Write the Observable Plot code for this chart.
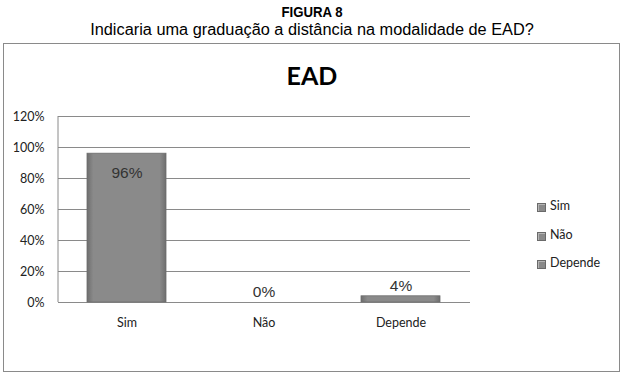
<!DOCTYPE html>
<html><head><meta charset="utf-8">
<script src="https://cdn.jsdelivr.net/npm/d3@7"></script>
<script src="https://cdn.jsdelivr.net/npm/@observablehq/plot@0.6"></script>
<style>
body{margin:0;background:#fff;width:624px;height:380px;position:relative;overflow:hidden;font-family:"Liberation Sans",Arial,sans-serif}
#h1{position:absolute;left:0;width:624px;top:3px;text-align:center;font-weight:bold;font-size:15px;color:#000;transform:scaleX(0.88)}
#h2{position:absolute;left:0;width:624px;top:21px;text-align:center;font-size:16px;color:#000;transform:scaleX(1.02)}
#box{position:absolute;left:3px;top:43px;width:615px;height:327px;border:1.5px solid #8a8a8a}
#title{position:absolute;left:0;width:624px;top:60px;text-align:center;font-family:Lato,sans-serif;font-weight:bold;font-size:25px;color:#000}
#chart{position:absolute;left:0;top:100px}
#legend{position:absolute;left:537px;top:198px;font-family:Lato,sans-serif;font-size:12.5px;color:#222}
.li{height:28.5px;display:flex;align-items:flex-start}
.sw{width:7px;height:7px;background:#8a8a8a;border:1px solid #6a6a6a;margin-right:4px;margin-top:5px;box-shadow:inset 1px 1px 0 #b5b5b5}
</style></head><body>
<div id="h1">FIGURA 8</div>
<div id="h2">Indicaria uma graduação a distância na modalidade de EAD?</div>
<div id="box"></div>
<div id="title">EAD</div>
<div id="chart"></div>
<div id="legend"></div>
<script>
const categories = ["Sim", "Não", "Depende"];
const values = [0.96, 0.00, 0.04];
const yTicks = [0, 0.2, 0.4, 0.6, 0.8, 1.0, 1.2];

const data = categories.map((c, i) => ({cat: c, v: values[i], label: Math.round(values[i]*100) + "%"}));

const plot = Plot.plot({
  width: 500, height: 245,
  marginLeft: 58, marginRight: 30, marginTop: 16, marginBottom: 43,
  style: {fontFamily: "Lato, sans-serif", fontSize: "12.5px", color: "#222", background: "transparent"},
  x: {domain: categories, paddingInner: 0.42, paddingOuter: 0.21, label: null, tickSize: 0, tickPadding: 16},
  y: {domain: [0, 1.2], ticks: yTicks, tickFormat: d => Math.round(d*100) + "%", label: null, tickSize: 0, tickPadding: 14},
  marks: [
    Plot.gridY(yTicks, {stroke: "#8a8a8a", strokeOpacity: 1, strokeWidth: 1}),
    Plot.barY(data, {x: "cat", y: "v", fill: "url(#bargrad)", stroke: "#6d6d6d", strokeWidth: 0.8}),
    Plot.text(data.filter(d => d.v > 0.5), {x: "cat", y: "v", text: "label", dy: 19, fontSize: 15.5, fontFamily: "Liberation Sans, Arial, sans-serif", fill: "#333"}),
    Plot.text(data.filter(d => d.v <= 0.5), {x: "cat", y: "v", text: "label", dy: -10 , fontSize: 15.5, fontFamily: "Liberation Sans, Arial, sans-serif", fill: "#333"}),
    Plot.axisY({ticks: yTicks, tickFormat: d => Math.round(d*100) + "%", tickSize: 0, tickPadding: 14, label: null}),
    Plot.axisX({tickSize: 0, tickPadding: 16, label: null})
  ]
});

const svg = d3.select(plot);
svg.append("line").attr("x1", 58).attr("x2", 58).attr("y1", 16).attr("y2", 202).attr("stroke", "#8a8a8a");
const defs = svg.insert("defs", ":first-child");
const g = defs.append("linearGradient").attr("id", "bargrad").attr("x1", "0").attr("x2", "1").attr("y1", "0").attr("y2", "0");
g.append("stop").attr("offset", "0%").attr("stop-color", "#6e6e6e");
g.append("stop").attr("offset", "8%").attr("stop-color", "#8a8a8a");
g.append("stop").attr("offset", "92%").attr("stop-color", "#8a8a8a");
g.append("stop").attr("offset", "100%").attr("stop-color", "#6e6e6e");
document.getElementById("chart").appendChild(plot);

const leg = document.getElementById("legend");
categories.forEach(c => {
  const d = document.createElement("div"); d.className = "li";
  const s = document.createElement("span"); s.className = "sw";
  const t = document.createElement("span"); t.textContent = c;
  d.appendChild(s); d.appendChild(t); leg.appendChild(d);
});
</script>
</body></html>
